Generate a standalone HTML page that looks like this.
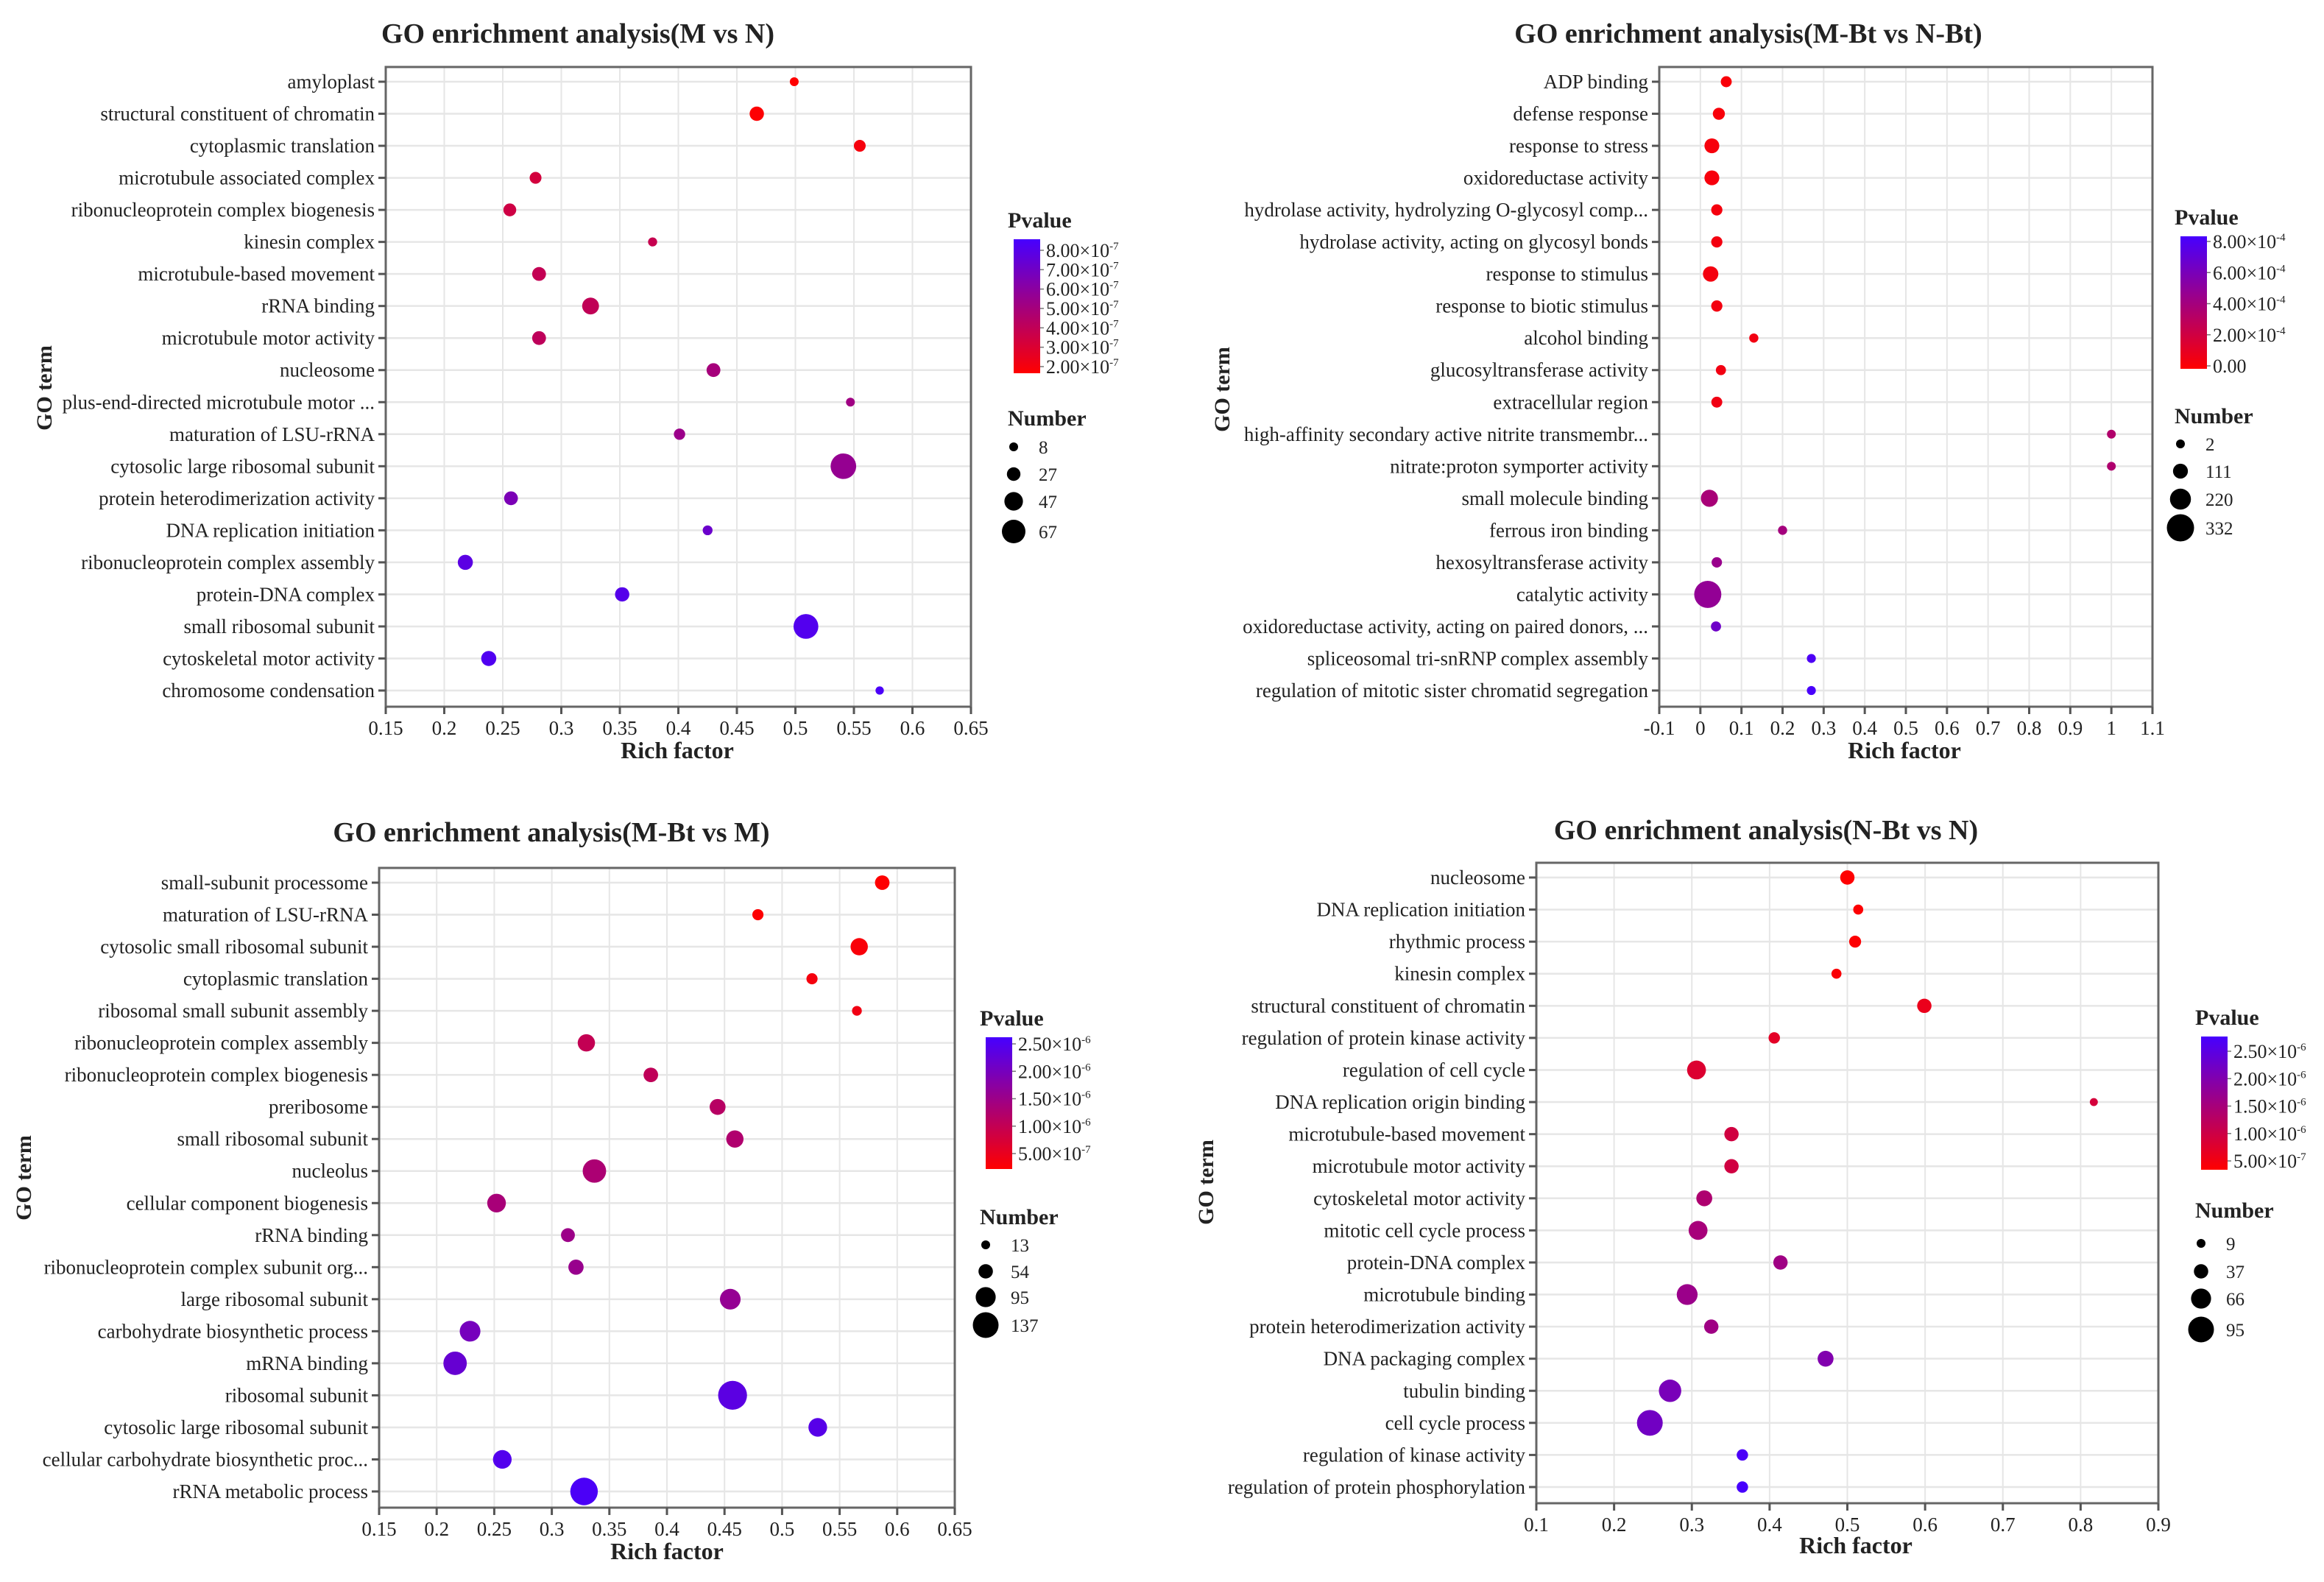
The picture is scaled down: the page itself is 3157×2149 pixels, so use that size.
<!DOCTYPE html>
<html><head><meta charset="utf-8"><style>
html,body{margin:0;padding:0;background:#fff}
svg{display:block}
text{font-family:"Liberation Serif",serif;fill:#222}
</style></head><body>
<svg id="fig" width="3157" height="2149" viewBox="0 0 3157 2149" xmlns="http://www.w3.org/2000/svg">
<defs>
<linearGradient id="pgrad" x1="0" y1="1" x2="0" y2="0">
<stop offset="0" stop-color="rgb(255,0,0)"/><stop offset="1" stop-color="rgb(70,0,255)"/>
</linearGradient>
</defs>
</svg>
<script>
// ---------- Panel 1 data (M vs N) ----------
const p1Terms=["amyloplast","structural constituent of chromatin","cytoplasmic translation","microtubule associated complex","ribonucleoprotein complex biogenesis","kinesin complex","microtubule-based movement","rRNA binding","microtubule motor activity","nucleosome","plus-end-directed microtubule motor ...","maturation of LSU-rRNA","cytosolic large ribosomal subunit","protein heterodimerization activity","DNA replication initiation","ribonucleoprotein complex assembly","protein-DNA complex","small ribosomal subunit","cytoskeletal motor activity","chromosome condensation"];
const p1Rich=[0.499,0.467,0.555,0.278,0.256,0.378,0.281,0.325,0.281,0.43,0.547,0.401,0.541,0.257,0.425,0.218,0.352,0.509,0.238,0.572];
const p1Count=[8,30,20,20,24,9,28,40,28,28,8,18,75,28,12,33,30,72,33,6];
const p1Pval=[1.6e-7,1.75e-7,2.0e-7,3.3e-7,3.5e-7,3.8e-7,3.9e-7,4.0e-7,4.1e-7,5.0e-7,5.2e-7,5.4e-7,5.6e-7,6.6e-7,7.2e-7,7.8e-7,8.0e-7,8.1e-7,8.2e-7,8.4e-7];
const p1XTicks=[0.15,0.2,0.25,0.3,0.35,0.4,0.45,0.5,0.55,0.6,0.65];
const p1CbTicks=[8e-7,7e-7,6e-7,5e-7,4e-7,3e-7,2e-7];
const p1CbLabels=[["8.00×10","-7"],["7.00×10","-7"],["6.00×10","-7"],["5.00×10","-7"],["4.00×10","-7"],["3.00×10","-7"],["2.00×10","-7"]];
const p1SizeLegend=[8,27,47,67];

// ---------- Panel 2 data (M-Bt vs N-Bt) ----------
const p2Terms=["ADP binding","defense response","response to stress","oxidoreductase activity","hydrolase activity, hydrolyzing O-glycosyl comp...","hydrolase activity, acting on glycosyl bonds","response to stimulus","response to biotic stimulus","alcohol binding","glucosyltransferase activity","extracellular region","high-affinity secondary active nitrite transmembr...","nitrate:proton symporter activity","small molecule binding","ferrous iron binding","hexosyltransferase activity","catalytic activity","oxidoreductase activity, acting on paired donors, ...","spliceosomal tri-snRNP complex assembly","regulation of mitotic sister chromatid segregation"];
const p2Rich=[0.063,0.045,0.028,0.028,0.04,0.04,0.025,0.04,0.13,0.05,0.04,1.0,1.0,0.022,0.2,0.04,0.018,0.038,0.27,0.27];
const p2Count=[40,60,110,110,45,45,120,45,8,25,40,2,2,150,8,30,330,25,5,5];
const p2Pval=[0.1e-4,0.15e-4,0.2e-4,0.2e-4,0.25e-4,0.3e-4,0.3e-4,0.35e-4,0.4e-4,0.4e-4,0.45e-4,3.4e-4,3.5e-4,3.8e-4,4.0e-4,4.5e-4,4.8e-4,6.5e-4,8.0e-4,8.2e-4];
const p2XTicks=[-0.1,0,0.1,0.2,0.3,0.4,0.5,0.6,0.7,0.8,0.9,1,1.1];
const p2CbTicks=[8e-4,6e-4,4e-4,2e-4,0];
const p2CbLabels=[["8.00×10","-4"],["6.00×10","-4"],["4.00×10","-4"],["2.00×10","-4"],["0.00",""]];
const p2SizeLegend=[2,111,220,332];

// ---------- Panel 3 data (M-Bt vs M) ----------
const p3Terms=["small-subunit processome","maturation of LSU-rRNA","cytosolic small ribosomal subunit","cytoplasmic translation","ribosomal small subunit assembly","ribonucleoprotein complex assembly","ribonucleoprotein complex biogenesis","preribosome","small ribosomal subunit","nucleolus","cellular component biogenesis","rRNA binding","ribonucleoprotein complex subunit org...","large ribosomal subunit","carbohydrate biosynthetic process","mRNA binding","ribosomal subunit","cytosolic large ribosomal subunit","cellular carbohydrate biosynthetic proc...","rRNA metabolic process"];
const p3Rich=[0.587,0.479,0.567,0.526,0.565,0.33,0.386,0.444,0.459,0.337,0.252,0.314,0.321,0.455,0.229,0.216,0.457,0.531,0.257,0.328];
const p3Count=[55,30,75,30,20,75,55,65,75,120,85,50,60,100,100,120,160,85,85,150];
const p3Pval=[2.3e-7,2.5e-7,3e-7,3.5e-7,4e-7,1.0e-6,1.05e-6,1.15e-6,1.25e-6,1.3e-6,1.35e-6,1.5e-6,1.55e-6,1.6e-6,2.0e-6,2.2e-6,2.35e-6,2.4e-6,2.45e-6,2.55e-6];
const p3XTicks=[0.15,0.2,0.25,0.3,0.35,0.4,0.45,0.5,0.55,0.6,0.65];
const p3CbTicks=[2.5e-6,2e-6,1.5e-6,1e-6,5e-7];
const p3CbLabels=[["2.50×10","-6"],["2.00×10","-6"],["1.50×10","-6"],["1.00×10","-6"],["5.00×10","-7"]];
const p3SizeLegend=[13,54,95,137];

// ---------- Panel 4 data (N-Bt vs N) ----------
const p4Terms=["nucleosome","DNA replication initiation","rhythmic process","kinesin complex","structural constituent of chromatin","regulation of protein kinase activity","regulation of cell cycle","DNA replication origin binding","microtubule-based movement","microtubule motor activity","cytoskeletal motor activity","mitotic cell cycle process","protein-DNA complex","microtubule binding","protein heterodimerization activity","DNA packaging complex","tubulin binding","cell cycle process","regulation of kinase activity","regulation of protein phosphorylation"];
const p4Rich=[0.5,0.514,0.51,0.486,0.599,0.406,0.306,0.817,0.351,0.351,0.316,0.308,0.414,0.294,0.325,0.472,0.272,0.246,0.365,0.365];
const p4Count=[37,15,25,15,37,22,60,5,37,37,45,60,37,70,37,45,78,95,22,22];
const p4Pval=[3.5e-7,3.6e-7,3.7e-7,4.0e-7,6e-7,7e-7,8e-7,9e-7,9.5e-7,9.6e-7,1.4e-6,1.5e-6,1.6e-6,1.65e-6,1.6e-6,2.0e-6,2.1e-6,2.2e-6,2.7e-6,2.75e-6];
const p4XTicks=[0.1,0.2,0.3,0.4,0.5,0.6,0.7,0.8,0.9];
const p4CbTicks=[2.5e-6,2e-6,1.5e-6,1e-6,5e-7];
const p4CbLabels=[["2.50×10","-6"],["2.00×10","-6"],["1.50×10","-6"],["1.00×10","-6"],["5.00×10","-7"]];
const p4SizeLegend=[9,37,66,95];

const NS="http://www.w3.org/2000/svg";
const svg=document.getElementById('fig');
function mk(tag,attrs,parent,txt){const e=document.createElementNS(NS,tag);for(const k in attrs)e.setAttribute(k,attrs[k]);if(txt!==undefined)e.textContent=txt;(parent||svg).appendChild(e);return e;}

function drawPanel(cfg){
  const g=mk('g',{});
  
  
  const {L,T,R,B,xmin,xmax}=cfg;
  const xs=v=>L+(v-xmin)/(xmax-xmin)*(R-L);
  const n=cfg.terms.length;
  const ys=i=>T+20+i*(B-T-42)/(n-1);
  const tt=mk('text',{x:cfg.titleX,y:cfg.titleY,'text-anchor':'middle','font-size':38,'font-weight':'bold',fill:'#111'},g,cfg.title);
  
  
  cfg.xticks.forEach(v=>{const l=mk('line',{x1:xs(v),x2:xs(v),y1:T,y2:B,stroke:'#e6e6e6','stroke-width':2},g);});
  for(let i=0;i<n;i++){const l=mk('line',{x1:L,x2:R,y1:ys(i),y2:ys(i),stroke:'#e6e6e6','stroke-width':2.5},g);}
  const fr=mk('rect',{x:L,y:T,width:R-L,height:B-T,fill:'none',stroke:'#666','stroke-width':3},g);
  
  
  cfg.xticks.forEach(v=>{
    mk('line',{x1:xs(v),x2:xs(v),y1:B,y2:B+10,stroke:'#555','stroke-width':3},g);
    const t=mk('text',{x:xs(v),y:B+38,'text-anchor':'middle','font-size':27,fill:'#333'},g,String(v));
    
    
  });
  cfg.terms.forEach((term,i)=>{
    mk('line',{x1:L-10,x2:L,y1:ys(i),y2:ys(i),stroke:'#555','stroke-width':3},g);
    const t=mk('text',{x:L-15,y:ys(i)+9,'text-anchor':'end','font-size':27,fill:'#333'},g,term);
    
    
  });
  const xt=mk('text',{x:cfg.xtX,y:cfg.xtY,'text-anchor':'middle','font-size':32,'font-weight':'bold',fill:'#111'},g,'Rich factor');
  
  
  const yt=mk('text',{x:0,y:0,'text-anchor':'middle','font-size':30,'font-weight':'bold',fill:'#111',transform:`translate(${cfg.ytX},${cfg.ytY}) rotate(-90)`},g,'GO term');
  
  
  const s=cfg.sizeLeg, dmin=cfg.dmin, dmax=cfg.dmax;
  const dia=c=>Math.max(8,dmin+(c-s[0])/(s[s.length-1]-s[0])*(dmax-dmin));
  const cbTop=cfg.cbT, cbBot=cfg.cbB;
  const span=cfg.cbTicks[0]-cfg.cbTicks[cfg.cbTicks.length-1];
  const ty=v=>cfg.lab0Y+(cfg.cbTicks[0]-v)/span*(cfg.labNY-cfg.lab0Y);
  const vTop=cfg.cbTicks[0]+(cfg.lab0Y-cbTop)/(cfg.labNY-cfg.lab0Y)*span;
  const vBot=cfg.cbTicks[cfg.cbTicks.length-1]-(cbBot-cfg.labNY)/(cfg.labNY-cfg.lab0Y)*span;
  const col=v=>{let t=(v-vBot)/(vTop-vBot);t=Math.max(0,Math.min(1,t));return `rgb(${Math.round(255+(70-255)*t)},0,${Math.round(255*t)})`;};
  cfg.terms.forEach((term,i)=>{
    const c=mk('circle',{cx:xs(cfg.rich[i]),cy:ys(i),r:dia(cfg.count[i])/2,fill:col(cfg.pval[i])},g);
    
    
  });
  const pt=mk('text',{x:cfg.cbX-8,y:cbTop-16,'font-size':30,'font-weight':'bold',fill:'#111'},g,'Pvalue');
  
  
  const cb=mk('rect',{x:cfg.cbX,y:cbTop,width:36,height:cbBot-cbTop,fill:'url(#pgrad)'},g);
  
  
  cfg.cbTicks.forEach((v,k)=>{
    const y=ty(v);
    mk('line',{x1:cfg.cbX+36,x2:cfg.cbX+41,y1:y,y2:y,stroke:'#777','stroke-width':1.5},g);
    const t=mk('text',{x:cfg.cbX+44,y:y+9,'font-size':26,fill:'#333'},g);
    
    
    mk('tspan',{},t,cfg.cbLabels[k][0]);
    if(cfg.cbLabels[k][1]) mk('tspan',{dy:-10,'font-size':15},t,cfg.cbLabels[k][1]);
  });
  const nt=mk('text',{x:cfg.cbX-8,y:cfg.numY,'font-size':30,'font-weight':'bold',fill:'#111'},g,'Number');
  
  
  s.forEach((v,k)=>{
    const y=cfg.legY[k];
    const c=mk('circle',{cx:cfg.cbX,cy:y,r:dia(v)/2,fill:'#000'},g);
    
    
    const t=mk('text',{x:cfg.cbX+34,y:y+9,'font-size':25,fill:'#333'},g,String(v));
    
    
  });
}

drawPanel({name:'panel-m-vs-n',title:'GO enrichment analysis(M vs N)',titleX:785,titleY:58,L:524,T:91,R:1319,B:960,xmin:0.15,xmax:0.65,
  terms:p1Terms,rich:p1Rich,count:p1Count,pval:p1Pval,xticks:p1XTicks,cbTicks:p1CbTicks,cbLabels:p1CbLabels,sizeLeg:p1SizeLegend,
  dmin:12,dmax:32,xtX:920,xtY:1030,ytX:70,ytY:527,cbX:1377,cbT:325,cbB:507,lab0Y:340,labNY:498,numY:578,legY:[607,644,681,722]});
drawPanel({name:'panel-mbt-vs-nbt',title:'GO enrichment analysis(M-Bt vs N-Bt)',titleX:2375,titleY:58,L:2254,T:91,R:2924,B:960,xmin:-0.1,xmax:1.1,
  terms:p2Terms,rich:p2Rich,count:p2Count,pval:p2Pval,xticks:p2XTicks,cbTicks:p2CbTicks,cbLabels:p2CbLabels,sizeLeg:p2SizeLegend,
  dmin:12,dmax:37,xtX:2587,xtY:1030,ytX:1670,ytY:529,cbX:2962,cbT:321,cbB:501,lab0Y:328,labNY:497,numY:575,legY:[603,640,678,717]});
drawPanel({name:'panel-mbt-vs-m',title:'GO enrichment analysis(M-Bt vs M)',titleX:749,titleY:1143,L:515,T:1179,R:1297,B:2048,xmin:0.15,xmax:0.65,
  terms:p3Terms,rich:p3Rich,count:p3Count,pval:p3Pval,xticks:p3XTicks,cbTicks:p3CbTicks,cbLabels:p3CbLabels,sizeLeg:p3SizeLegend,
  dmin:12,dmax:35,xtX:906,xtY:2118,ytX:42,ytY:1600,cbX:1339,cbT:1409,cbB:1588,lab0Y:1418,labNY:1567,numY:1663,legY:[1691,1727,1762,1800]});
drawPanel({name:'panel-nbt-vs-n',title:'GO enrichment analysis(N-Bt vs N)',titleX:2399,titleY:1140,L:2087,T:1172,R:2932,B:2042,xmin:0.1,xmax:0.9,
  terms:p4Terms,rich:p4Rich,count:p4Count,pval:p4Pval,xticks:p4XTicks,cbTicks:p4CbTicks,cbLabels:p4CbLabels,sizeLeg:p4SizeLegend,
  dmin:12,dmax:35,xtX:2521,xtY:2110,ytX:1648,ytY:1606,cbX:2990,cbT:1408,cbB:1589,lab0Y:1428,labNY:1577,numY:1654,legY:[1689,1727,1764,1806]});
</script>
</body></html>
